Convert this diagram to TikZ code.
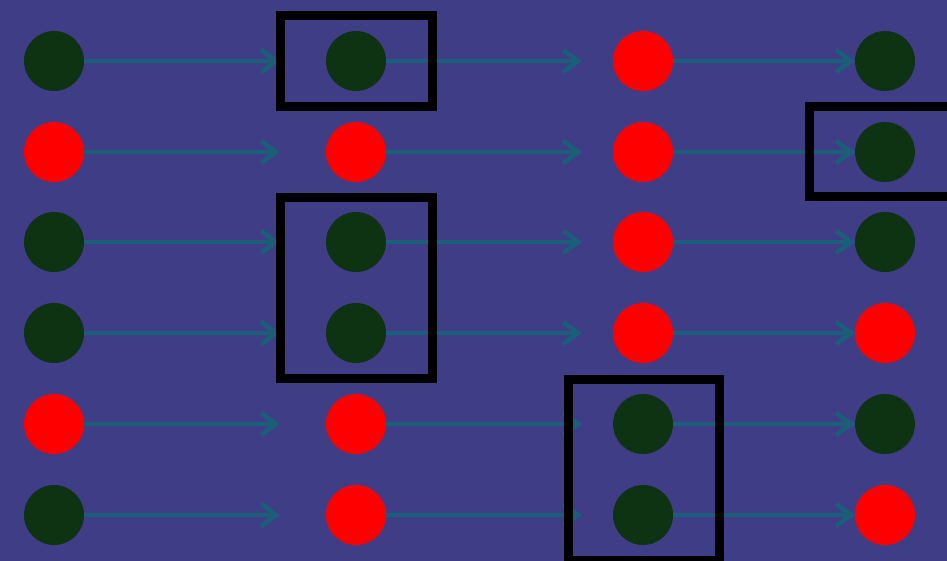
\documentclass[tikz,border=0pt]{standalone}
\usetikzlibrary{arrows.meta}
\definecolor{bgc}{RGB}{64,61,135}
\definecolor{dgreen}{RGB}{13,51,18}
\definecolor{arrc}{RGB}{26,94,122}
\tikzset{
  dot/.style={circle, minimum size=60pt, inner sep=0pt, outer sep=0pt, draw=none},
  gdot/.style={dot, fill=dgreen},
  rdot/.style={dot, fill=red},
  arr/.style={draw=arrc, line width=4.5pt, -{Straight Barb[length=15pt,width=22pt,line width=4.5pt]}},
  hl/.style={draw=black, line width=9pt, fill=none, inner sep=0pt, outer sep=0pt}
}
\begin{document}
\begin{tikzpicture}[x=1pt,y=-1pt]
\fill[bgc] (0,0) rectangle (947,561);
\useasboundingbox (0,0) rectangle (947,561);
% columns: 54, 356, 643, 885 ; rows: 61,152,242,333,424,515
\foreach \r/\y/\a/\b/\c/\d in {1/61/g/g/r/g, 2/152/r/r/r/g, 3/242/g/g/r/g, 4/333/g/g/r/r, 5/424/r/r/g/g, 6/515/g/r/g/r}{
  \node[\a dot] (c\r1) at (54,\y) {};
  \node[\b dot] (c\r2) at (356,\y) {};
  \node[\c dot] (c\r3) at (643,\y) {};
  \node[\d dot] (c\r4) at (885,\y) {};
  \draw[arr, shorten >=46pt] (c\r1) -- (c\r2);
  \draw[arr, shorten >=31pt] (c\r2) -- (c\r3);
  \draw[arr] (c\r3) -- (c\r4);
}
\node[hl, minimum width=152pt, minimum height=91pt] (b1) at (356.5,61) {};
\node[hl, minimum width=152pt, minimum height=90pt] (b2) at (885.5,151.5) {};
\node[hl, minimum width=152pt, minimum height=181pt] (b3) at (356.5,288) {};
\node[hl, minimum width=151pt, minimum height=181pt] (b4) at (643.5,469.5) {};
\end{tikzpicture}
\end{document}
